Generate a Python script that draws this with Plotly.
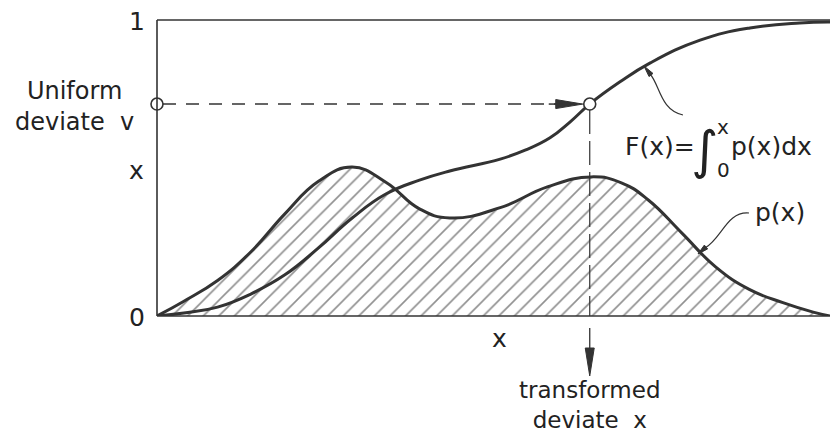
import plotly.graph_objects as go

# ---------------- data ----------------
x_p = [0, 0.04, 0.09, 0.14, 0.19, 0.24, 0.29, 0.34, 0.39, 0.435, 0.51, 0.58,
       0.645, 0.69, 0.73, 0.78, 0.83, 0.88, 0.93, 0.975, 1.0]
p_vals = [0, 0.050, 0.120, 0.218, 0.345, 0.455, 0.503, 0.452, 0.362, 0.331, 0.366,
          0.436, 0.470, 0.450, 0.392, 0.280, 0.166, 0.090, 0.045, 0.013, 0]

x_F = [0, 0.04, 0.09, 0.14, 0.19, 0.24, 0.29, 0.34, 0.39, 0.435, 0.51, 0.547, 0.584,
       0.614, 0.643, 0.688, 0.733, 0.807, 0.881, 0.955, 1.0]
F_vals = [0, 0.010, 0.030, 0.075, 0.139, 0.230, 0.331, 0.412, 0.459, 0.490, 0.530,
          0.560, 0.602, 0.656, 0.716, 0.791, 0.855, 0.932, 0.973, 0.990, 0.993]

v_uniform = 0.716        # uniform deviate v
x_transformed = 0.643    # transformed deviate x
y_tick_vals = [0, 1]
y_tick_labels = ["0", "1"]

# ---------------- layout geometry ----------------
W, H = 830, 436
ML, MR, MT, MB = 157, 0, 20, 120
PW, PH = W - ML - MR, H - MT - MB
INK = "#333333"
FONT = "DejaVu Sans"


def X(px):
    return (px - ML) / PW


def Y(py):
    return (MT + PH - py) / PH


fig = go.Figure()

# hatched area under p(x)
fig.add_trace(go.Scatter(
    x=x_p, y=p_vals, mode="lines", line=dict(color=INK, width=3, shape="spline", smoothing=1.3),
    fill="tozeroy", fillcolor="rgba(0,0,0,0)",
    fillpattern=dict(shape="/", fgcolor="#222222", bgcolor="white", size=11, solidity=0.15),
    hoverinfo="skip", showlegend=False))

# F(x)
fig.add_trace(go.Scatter(
    x=x_F, y=F_vals, mode="lines", line=dict(color=INK, width=3, shape="spline", smoothing=1.3),
    hoverinfo="skip", showlegend=False))

# dashed horizontal from v to the curve
fig.add_trace(go.Scatter(
    x=[6 / PW, x_transformed - 30 / PW], y=[v_uniform, v_uniform], mode="lines",
    line=dict(color=INK, width=1.5, dash="13px,10px"), hoverinfo="skip", showlegend=False))

# dashed vertical from the curve down to the axis
fig.add_trace(go.Scatter(
    x=[x_transformed, x_transformed], y=[v_uniform - 6 / PH, 0], mode="lines",
    line=dict(color=INK, width=1.2, dash="24px,7px"), hoverinfo="skip", showlegend=False))

# open circles
fig.add_trace(go.Scatter(
    x=[0, x_transformed], y=[v_uniform, v_uniform], mode="markers", cliponaxis=False,
    marker=dict(symbol="circle", size=12, color="white", line=dict(color=INK, width=1.6)),
    hoverinfo="skip", showlegend=False))

shapes = []
# box: left, top, bottom
for (x0, y0, x1, y1) in [(0, 0, 0, 1), (0, 1, 1, 1), (0, 0, 1, 0)]:
    shapes.append(dict(type="line", xref="paper", yref="paper", x0=x0, y0=y0, x1=x1, y1=y1,
                       line=dict(color=INK, width=1.6), layer="above"))


def tri(tip, back, half):
    """triangle arrowhead in pixel space -> paper path"""
    tx, ty = tip
    bx, by = back
    dx, dy = tx - bx, ty - by
    L = (dx * dx + dy * dy) ** 0.5
    nx, ny = -dy / L * half, dx / L * half
    pts = [(tx, ty), (bx + nx, by + ny), (bx - nx, by - ny)]
    return "M " + " L ".join(f"{X(a):.5f},{Y(b):.5f}" for a, b in pts) + " Z"


# arrowhead on horizontal dashed line
tip_px = ML + x_transformed * PW - 7
v_py = MT + PH - v_uniform * PH
shapes.append(dict(type="path", xref="paper", yref="paper",
                   path=tri((tip_px, v_py), (tip_px - 27, v_py), 4.5),
                   fillcolor=INK, line=dict(color=INK, width=1)))
shapes.append(dict(type="line", xref="paper", yref="paper",
                   x0=X(tip_px - 34), y0=v_uniform, x1=X(tip_px - 20), y1=v_uniform,
                   line=dict(color=INK, width=1.5)))

# vertical arrow below the axis
xt_px = ML + x_transformed * PW
shapes.append(dict(type="line", xref="paper", yref="paper",
                   x0=x_transformed, y0=Y(328), x1=x_transformed, y1=Y(350),
                   line=dict(color=INK, width=1.3)))
shapes.append(dict(type="path", xref="paper", yref="paper",
                   path=tri((xt_px, 376), (xt_px, 348), 4.5),
                   fillcolor=INK, line=dict(color=INK, width=1)))

# leader for F(x)
shapes.append(dict(type="path", xref="paper", yref="paper",
                   path=(f"M {X(683):.5f},{Y(115):.5f} C {X(660):.5f},{Y(110):.5f} "
                         f"{X(660):.5f},{Y(85):.5f} {X(650):.5f},{Y(74):.5f}"),
                   line=dict(color=INK, width=1.2)))
shapes.append(dict(type="path", xref="paper", yref="paper",
                   path=tri((644, 66), (651, 75), 2.5), fillcolor=INK, line=dict(color=INK, width=1)))

# leader for p(x)
shapes.append(dict(type="path", xref="paper", yref="paper",
                   path=(f"M {X(749):.5f},{Y(213):.5f} C {X(727):.5f},{Y(211):.5f} "
                         f"{X(722):.5f},{Y(238):.5f} {X(705):.5f},{Y(248):.5f}"),
                   line=dict(color=INK, width=1.2)))
shapes.append(dict(type="path", xref="paper", yref="paper",
                   path=tri((698, 254), (706, 247), 2.5), fillcolor=INK, line=dict(color=INK, width=1)))

TXT = "#222222"


def label(text, px, py, size=25, xanchor="center"):
    return dict(text=text, xref="paper", yref="paper", x=X(px), y=Y(py),
                xanchor=xanchor, yanchor="middle", showarrow=False,
                font=dict(family=FONT, size=size, color=TXT))


annotations = [
    label(y_tick_labels[1], 147, 21, xanchor="right"),
    label(y_tick_labels[0], 147, 317, xanchor="right"),
    label("Uniform<br>deviate  v", 74, 106, size=24),
    label("x", 146, 170, xanchor="right"),
    label("x", 499, 338),
    label("transformed<br>deviate  x", 590, 405, size=23),
    label("F(x)=", 697, 146, xanchor="right"),
    label("∫", 704, 150, size=52),
    label("x", 723, 127, size=20),
    label("0", 723, 170, size=20),
    label("p(x)dx", 729, 146, xanchor="left"),
    label("p(x)", 753, 213, xanchor="left"),
]

fig.update_layout(
    width=W, height=H, margin=dict(l=ML, r=MR, t=MT, b=MB),
    paper_bgcolor="white", plot_bgcolor="white",
    xaxis=dict(range=[0, 1], visible=False, fixedrange=True),
    yaxis=dict(range=[0, 1], visible=False, fixedrange=True),
    shapes=shapes, annotations=annotations, showlegend=False,
)

fig.write_html("out.html", config={"displayModeBar": False},
               post_script="document.body.style.margin='0px';")
